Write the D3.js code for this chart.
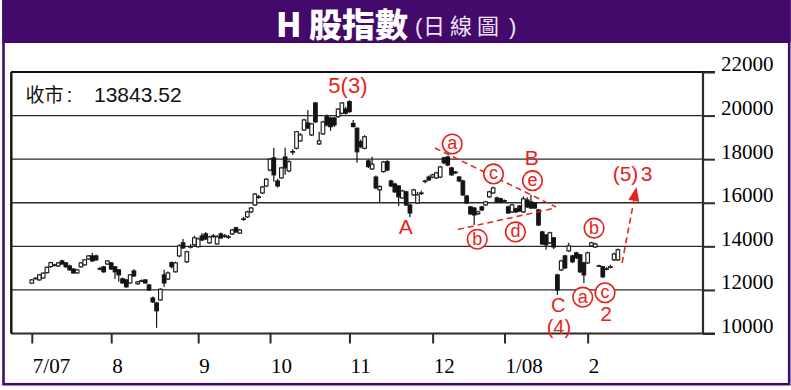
<!DOCTYPE html>
<html><head><meta charset="utf-8">
<script src="https://cdn.jsdelivr.net/npm/d3@7"></script>
<style>body{margin:0;background:#fff}svg{display:block}</style>
</head><body><svg id="c" width="791" height="390"></svg>
<script>
// ---------- data ----------
const monthIdx = [0, 21, 44, 63, 84, 106, 125, 147];
const monthLabels = ["7/07", "8", "9", "10", "11", "12", "1/08", "2"];
const yTicks = [10000, 12000, 14000, 16000, 18000, 20000, 22000];

const open = [12310,12520,12460,12550,12790,13070,13130,13100,13330,13240,
13100,12960,12780,13060,13150,13420,13560,13560,12980,13060,
13190,13240,13060,12920,12510,12460,12320,12870,12280,12400,
12460,12230,11630,11400,11540,12690,12500,13250,12830,13560,
14160,13290,13970,14070,13980,14480,14570,14160,14460,14110,
14570,14460,14420,14570,14850,14610,15240,15350,15580,15900,
16250,16450,16770,17500,18060,17000,17140,18100,17460,18320,
18500,18840,19340,19660,19110,20580,18700,19160,19950,19890,
19890,19950,20110,20300,20640,19640,19420,18800,18500,17920,
17550,17180,16590,17430,17890,17000,16860,16770,16220,16500,
15900,16360,15990,16430,16980,17180,17180,17140,17180,18060,
18100,17600,17410,17180,17000,16310,15810,15760,15490,15810,
15900,16270,16450,16220,16180,16100,15810,15580,15720,15850,
15580,16130,16040,15990,15670,14660,14520,14160,14390,12690,
12920,13560,13790,13560,13700,13610,13240,13240,14020,13970,
13090,13060,12950,13040,13380,13380];
const high = [12500,12580,12720,12800,13080,13290,13200,13280,13380,13280,
13150,13000,12960,13280,13420,13600,13700,13620,13050,13100,
13370,13280,13100,12960,12560,12500,12730,12950,12410,12480,
12500,12270,11700,11450,12080,12920,12850,13300,13300,14100,
14340,13800,14100,14480,14400,14610,14660,14480,14570,14520,
14640,14570,14520,14800,14900,14800,15350,15630,15810,16450,
16360,16780,17140,18050,18520,17100,17650,18520,17950,18450,
19300,19200,19850,20260,19660,20620,19260,19760,20050,19950,
19950,20340,20600,20400,20700,19800,19450,18900,19100,18000,
18110,17250,16800,17920,17950,17050,16920,16800,16600,16550,
15950,16640,16500,16550,17050,17250,17330,17420,17700,18110,
18150,17650,17460,17230,17050,16360,15860,15810,15630,15860,
16090,16550,16730,16270,16230,16150,15860,15950,15770,15900,
16300,16250,16360,16040,15720,14710,14570,14670,14430,12740,
13380,13610,14160,13610,13750,13650,13290,13750,14210,14160,
13150,13100,13050,13150,13700,13900];
const low = [12290,12480,12420,12500,12750,13020,13080,13050,13150,13020,
12880,12740,12740,13020,13110,13380,13290,13340,12900,12790,
13150,12920,12500,12370,12280,12100,12280,12600,12240,12360,
12280,11950,11400,10260,11500,12140,12450,12980,12800,13500,
13880,13240,13900,14020,13950,14250,14290,14110,14390,14070,
14340,14390,14340,14520,14620,14570,15170,15300,15530,15850,
16180,16400,16720,17450,16960,16700,17100,17280,17400,18200,
18450,18800,19300,19380,19060,19650,18650,19110,19500,19300,
19480,19900,20050,20050,20130,19450,17830,18500,18450,17600,
17500,16630,16040,17380,17450,16720,16450,15850,16180,15850,
15350,16310,15940,16350,16900,17000,17130,17090,17130,17780,
17680,17230,17320,16950,16310,15940,15440,14980,15440,15620,
15850,16220,16400,15990,15990,16030,15480,15530,15530,15570,
15530,15760,15710,15710,14930,14060,13840,14110,13880,11770,
12870,12960,13740,13240,13420,12780,12320,13190,13970,13920,
13050,12550,12900,12990,13330,13330];
const close = [12460,12540,12690,12770,13040,13250,13150,13240,13190,13060,
12920,12780,12920,13240,13380,13560,13330,13380,12960,12830,
13330,12960,12830,12690,12320,12140,12690,12640,12370,12420,
12320,12000,11450,11040,12030,12320,12780,13070,13240,14020,
13930,13750,13990,14390,14340,14290,14340,14430,14480,14430,
14390,14490,14440,14750,14660,14750,15260,15580,15760,16400,
16270,16720,17080,18000,17280,16770,17600,17600,17880,18350,
19260,19110,19800,19430,19620,19710,18840,19710,19570,19490,
19570,20300,20580,20110,20180,19500,18340,18570,19030,17660,
17770,16680,16740,17870,17500,16770,16500,16270,16540,15900,
15530,16590,16360,16450,17000,17050,17280,17370,17640,17830,
17730,17280,17370,17000,16360,15990,15490,15440,15580,15670,
16040,16500,16680,16040,16040,16080,15530,15900,15580,15620,
16180,15810,15760,15760,14980,14110,14070,14620,13970,12000,
13330,13010,14020,13290,13470,12830,12690,13700,14160,14110,
13110,12600,12970,13060,13650,13843.52];

// wave annotations, anchored in data space (trading-day index, index level)
const waveText = ["5(3)", "A", "B", "C", "(4)", "2", "(5)", "3"];
const waveIdx  = [83.6, 98.9, 132.2, 139.2, 139.4, 151.9, 157.0, 162.6];
const waveVal  = [21037, 14555, 17734, 10990, 10000, 10592, 17000, 17000];
const waveSize = [22, 21, 21, 20, 20, 21, 21, 21];
const subText = ["a", "c", "e", "b", "d", "b", "a", "c"];
const subIdx  = [111.2, 122.1, 132.4, 117.8, 127.9, 148.7, 145.7, 151.6];
const subVal  = [18697, 17321, 17014, 14326, 14661, 14831, 11665, 11870];
const trendIdx = [[106.6, 138.6], [112.7, 138.6]];
const trendVal = [[18514, 15807], [14776, 15762]];
const arrowIdx = [156.1, 159.9];
const arrowVal = [13239, 16720];

// ---------- drawing ----------
const svg = d3.select("#c");
const purple = "#43096b", red = "#e5231b", ink = "#141414", gridC = "#2e2a24";
const x = d3.scaleLinear().domain([-5.5, 177.5]).range([11, 703]);
const y = d3.scaleLinear().domain([10000, 22000]).range([333.5, 72]);

// outer frame + title bar
svg.append("rect").attr("x", 0).attr("y", 0).attr("width", 791).attr("height", 390).attr("fill", "#fff");
svg.append("rect").attr("x", 3.5).attr("y", 1).attr("width", 785.7).attr("height", 383.2)
  .attr("fill", "none").attr("stroke", purple).attr("stroke-width", 2.6);
svg.append("rect").attr("x", 2.3).attr("y", 0).attr("width", 788.4).attr("height", 43).attr("fill", purple);
const cjk = "'Noto Sans CJK TC','Noto Sans CJK SC',sans-serif";
svg.append("text").attr("x", 276).attr("y", 37).attr("font-family", cjk)
  .attr("font-size", 33).attr("font-weight", 900).attr("fill", "#fff").text("H 股指數");
const sub = svg.append("text").attr("y", 34).attr("font-family", cjk).attr("font-size", 22)
  .attr("font-weight", 400).attr("fill", "#eee6f5");
sub.append("tspan").attr("x", 415).attr("font-family", "'Liberation Sans',sans-serif").attr("font-size", 22).text("(");
sub.append("tspan").attr("x", 423).attr("letter-spacing", 5).text("日線圖");
sub.append("tspan").attr("x", 509).attr("font-family", "'Liberation Sans',sans-serif").attr("font-size", 22).text(")");

// gridlines
svg.append("g").selectAll("line").data(yTicks.filter(d => d > 10000 && d < 22000)).join("line")
  .attr("x1", 11).attr("x2", 703).attr("y1", d => y(d)).attr("y2", d => y(d))
  .attr("stroke", gridC).attr("stroke-width", 1.4);
// frame
svg.append("line").attr("x1", 11).attr("x2", 715).attr("y1", y(22000)).attr("y2", y(22000)).attr("stroke", "#111").attr("stroke-width", 2.2);
svg.append("line").attr("x1", 11).attr("x2", 715).attr("y1", y(10000)).attr("y2", y(10000)).attr("stroke", gridC).attr("stroke-width", 2.2);
svg.append("line").attr("x1", 11.3).attr("x2", 11.3).attr("y1", y(22000)).attr("y2", y(10000)).attr("stroke", "#111").attr("stroke-width", 2.4);

// right axis
const yAxis = svg.append("g").attr("transform", "translate(703,0)")
  .call(d3.axisRight(y).tickValues(yTicks).tickSize(12).tickPadding(6).tickFormat(d => d));
yAxis.select(".domain").attr("stroke", gridC).attr("stroke-width", 2.2).attr("d", `M0,${y(22000)}V${y(10000)}`);
yAxis.selectAll(".tick line").attr("stroke", gridC).attr("stroke-width", 2);
yAxis.selectAll(".tick text").attr("font-family", "'Liberation Serif','Times New Roman',serif")
  .attr("font-size", 21).attr("fill", "#000").attr("dy", "-0.05em");

// bottom axis
const xAxis = svg.append("g").attr("transform", `translate(0,${y(10000)})`)
  .call(d3.axisBottom(x).tickValues(monthIdx).tickSize(10).tickFormat((d, i) => monthLabels[i]));
xAxis.select(".domain").remove();
xAxis.selectAll(".tick line").attr("stroke", gridC).attr("stroke-width", 2);
xAxis.selectAll(".tick text").attr("font-family", "'Liberation Serif','Times New Roman',serif")
  .attr("font-size", 21).attr("fill", "#000").attr("text-anchor", "start")
  .attr("x", 0.5).attr("y", 373 - y(10000)).attr("dy", 0);

// candles
const idx = d3.range(close.length);
const cg = svg.append("g");
cg.selectAll("line").data(idx).join("line")
  .attr("x1", i => x(i)).attr("x2", i => x(i))
  .attr("y1", i => y(high[i])).attr("y2", i => y(low[i]))
  .attr("stroke", ink).attr("stroke-width", 1.2);
cg.selectAll("rect").data(idx).join("rect")
  .attr("x", i => x(i) - 1.8).attr("width", 3.6)
  .attr("y", i => y(Math.max(open[i], close[i])))
  .attr("height", i => Math.max(0.6, Math.abs(y(open[i]) - y(close[i]))))
  .attr("fill", i => close[i] >= open[i] ? "#fff" : ink)
  .attr("stroke", ink).attr("stroke-width", 1.1);

// close label
const cl = svg.append("text").attr("y", 101.5)
  .attr("font-family", "'Liberation Sans','Noto Sans CJK TC',sans-serif").attr("font-size", 21).attr("fill", "#111");
cl.append("tspan").attr("x", 25.5).attr("font-family", cjk).attr("font-size", 19).text("收市");
cl.append("tspan").attr("x", 66.5).text(":");
cl.append("tspan").attr("x", 94).text(close[close.length - 1]);

// trend (dashed) lines
svg.append("g").selectAll("line").data(trendIdx).join("line")
  .attr("x1", (d) => x(d[0])).attr("x2", d => x(d[1]))
  .attr("y1", (d, k) => y(trendVal[k][0])).attr("y2", (d, k) => y(trendVal[k][1]))
  .attr("stroke", red).attr("stroke-width", 1.5).attr("stroke-dasharray", "6,4");

// arrow
const ax0 = x(arrowIdx[0]), ay0 = y(arrowVal[0]), ax1 = x(arrowIdx[1]), ay1 = y(arrowVal[1]);
const ang = Math.atan2(ay1 - ay0, ax1 - ax0);
const hx = ax1 - 14 * Math.cos(ang), hy = ay1 - 14 * Math.sin(ang);
svg.append("line").attr("x1", ax0).attr("y1", ay0).attr("x2", hx).attr("y2", hy)
  .attr("stroke", red).attr("stroke-width", 1.6).attr("stroke-dasharray", "6,4");
const px = -Math.sin(ang), py = Math.cos(ang);
svg.append("path").attr("fill", red)
  .attr("d", `M${ax1},${ay1}L${hx + 5.5 * px},${hy + 5.5 * py}L${hx - 5.5 * px},${hy - 5.5 * py}Z`);

// wave labels
svg.append("g").selectAll("text").data(waveText).join("text")
  .attr("x", (d, k) => x(waveIdx[k])).attr("y", (d, k) => y(waveVal[k]))
  .attr("text-anchor", "middle")
  .attr("font-family", "'Liberation Sans',Arial,sans-serif").attr("font-size", (d, k) => waveSize[k]).attr("fill", red)
  .text(d => d);

// circled sub-wave labels
const sg = svg.append("g").selectAll("g").data(subText).join("g")
  .attr("transform", (d, k) => `translate(${x(subIdx[k])},${y(subVal[k])})`);
sg.append("circle").attr("r", 9.8).attr("fill", "#fff").attr("stroke", red).attr("stroke-width", 1.6);
sg.append("text").attr("text-anchor", "middle").attr("y", 5.5)
  .attr("font-family", "'Liberation Sans',Arial,sans-serif").attr("font-size", 18).attr("fill", red)
  .text(d => d);
</script></body></html>
